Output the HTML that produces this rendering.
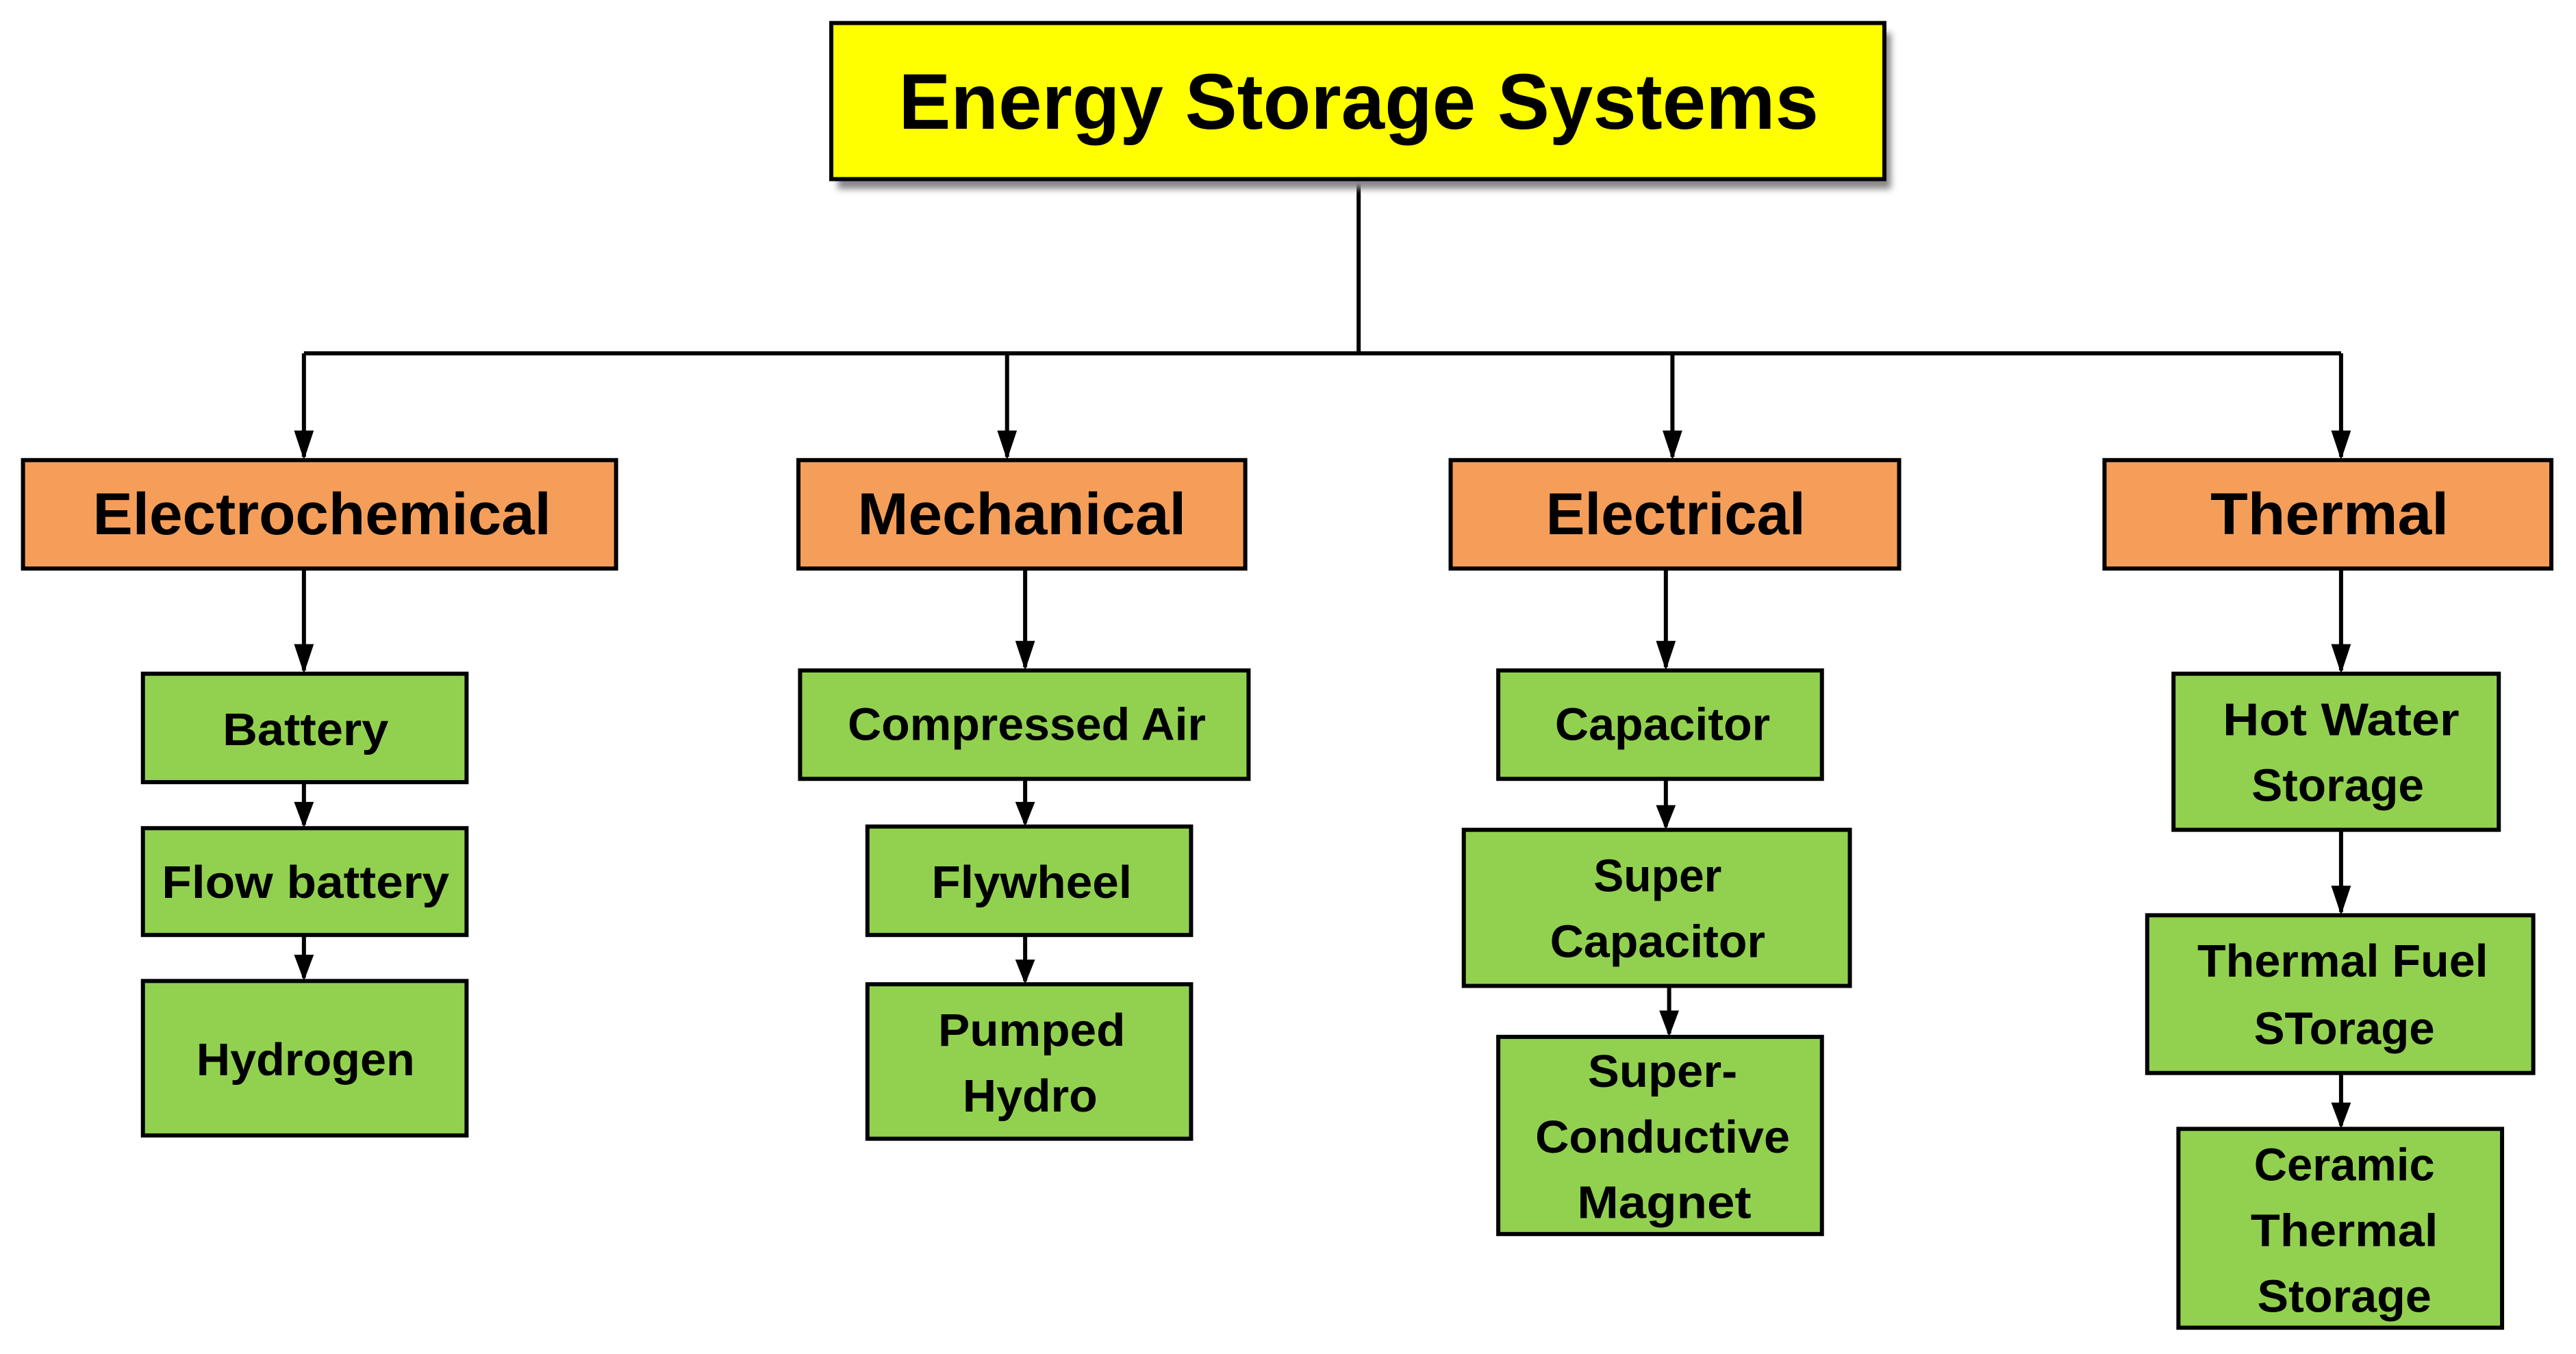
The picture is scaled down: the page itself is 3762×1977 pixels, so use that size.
<!DOCTYPE html>
<html><head><meta charset="utf-8"><style>html,body{margin:0;padding:0;background:#fff}svg{display:block}</style></head>
<body>
<svg width="3762" height="1977" viewBox="0 0 1568 824" xmlns="http://www.w3.org/2000/svg" font-family="Liberation Sans, sans-serif" font-weight="bold">
<defs>
<marker id="a" viewBox="0 0 10 10" refX="10" refY="5" markerWidth="8" markerHeight="8" markerUnits="userSpaceOnUse" orient="auto"><path d="M0,0 L10,5 L0,10 z" fill="#000"/></marker>
<filter id="sh" x="-5%" y="-20%" width="115%" height="150%"><feGaussianBlur stdDeviation="2"/></filter>
</defs>
<g stroke="#000" stroke-width="2.5" fill="none">
<path d="M827,109 V215 M185,215 H1425"/>
<path d="M185,215 V278 M613,215 V278 M1018,215 V278 M1425,215 V278"/>
<path d="M185,346 V408 M185,476 V502 M185,569 V595"/>
<path d="M624,346 V406 M624,474 V501 M624,569 V597"/>
<path d="M1014,346 V406 M1014,474 V503 M1016,600 V629"/>
<path d="M1425,346 V408 M1425,505 V555 M1425,653 V685"/>
</g>
<g fill="#000">
<path d="M179,262 L191,262 L185,280z M607,262 L619,262 L613,280z M1012,262 L1024,262 L1018,280z M1419,262 L1431,262 L1425,280z"/>
<path d="M179,392 L191,392 L185,410z M179,488 L191,488 L185,504z M179,581 L191,581 L185,597z"/>
<path d="M618,390 L630,390 L624,408z M618,488 L630,488 L624,503z M618,584 L630,584 L624,599z"/>
<path d="M1008,390 L1020,390 L1014,408z M1008,490 L1020,490 L1014,505z M1010,615 L1022,615 L1016,631z"/>
<path d="M1419,392 L1431,392 L1425,410z M1419,539 L1431,539 L1425,557z M1419,671 L1431,671 L1425,687z"/>
</g>
<rect x="510" y="20" width="641" height="95" fill="#888" filter="url(#sh)"/>
<g stroke="#000" stroke-width="2.5">
<rect x="506" y="14" width="641" height="95" fill="#ffff00"/>
<g fill="#f59e5a">
<rect x="14" y="280" width="361" height="66"/>
<rect x="486" y="280" width="272" height="66"/>
<rect x="883" y="280" width="273" height="66"/>
<rect x="1281" y="280" width="272" height="66"/>
</g>
<g fill="#92d050">
<rect x="87" y="410" width="197" height="66"/>
<rect x="87" y="504" width="197" height="65"/>
<rect x="87" y="597" width="197" height="94"/>
<rect x="487" y="408" width="273" height="66"/>
<rect x="528" y="503" width="197" height="66"/>
<rect x="528" y="599" width="197" height="94"/>
<rect x="912" y="408" width="197" height="66"/>
<rect x="891" y="505" width="235" height="95"/>
<rect x="912" y="631" width="197" height="120"/>
<rect x="1323" y="410" width="198" height="95"/>
<rect x="1307" y="557" width="235" height="96"/>
<rect x="1326" y="687" width="197" height="121"/>
</g>
</g>
<g fill="#000" text-anchor="middle" dominant-baseline="central" lengthAdjust="spacingAndGlyphs">
<text x="827" y="62" font-size="48" textLength="560" lengthAdjust="spacingAndGlyphs">Energy Storage Systems</text>
<g font-size="36">
<text x="196" y="313" textLength="279" lengthAdjust="spacingAndGlyphs">Electrochemical</text>
<text x="622" y="313" textLength="200" lengthAdjust="spacingAndGlyphs">Mechanical</text>
<text x="1020" y="313" textLength="158" lengthAdjust="spacingAndGlyphs">Electrical</text>
<text x="1418" y="313" textLength="145" lengthAdjust="spacingAndGlyphs">Thermal</text>
</g>
<g font-size="28">
<text x="186" y="444" textLength="101" lengthAdjust="spacingAndGlyphs">Battery</text>
<text x="186" y="537" textLength="175" lengthAdjust="spacingAndGlyphs">Flow battery</text>
<text x="186" y="645" textLength="133" lengthAdjust="spacingAndGlyphs">Hydrogen</text>
<text x="625" y="441" textLength="218" lengthAdjust="spacingAndGlyphs">Compressed Air</text>
<text x="628" y="537" textLength="122" lengthAdjust="spacingAndGlyphs">Flywheel</text>
<text x="628" y="627" textLength="114" lengthAdjust="spacingAndGlyphs">Pumped</text>
<text x="627" y="667" textLength="82" lengthAdjust="spacingAndGlyphs">Hydro</text>
<text x="1012" y="441" textLength="131" lengthAdjust="spacingAndGlyphs">Capacitor</text>
<text x="1009" y="533" textLength="78" lengthAdjust="spacingAndGlyphs">Super</text>
<text x="1009" y="573" textLength="131" lengthAdjust="spacingAndGlyphs">Capacitor</text>
<text x="1012" y="652" textLength="91" lengthAdjust="spacingAndGlyphs">Super-</text>
<text x="1012" y="692" textLength="155" lengthAdjust="spacingAndGlyphs">Conductive</text>
<text x="1013" y="732" textLength="106" lengthAdjust="spacingAndGlyphs">Magnet</text>
<text x="1425" y="438" textLength="144" lengthAdjust="spacingAndGlyphs">Hot Water</text>
<text x="1423" y="478" textLength="105" lengthAdjust="spacingAndGlyphs">Storage</text>
<text x="1426" y="585" textLength="177" lengthAdjust="spacingAndGlyphs">Thermal Fuel</text>
<text x="1427" y="626" textLength="110" lengthAdjust="spacingAndGlyphs">STorage</text>
<text x="1427" y="709" textLength="110" lengthAdjust="spacingAndGlyphs">Ceramic</text>
<text x="1427" y="749" textLength="114" lengthAdjust="spacingAndGlyphs">Thermal</text>
<text x="1427" y="789" textLength="106" lengthAdjust="spacingAndGlyphs">Storage</text>
</g>
</g>
</svg>
</body></html>
